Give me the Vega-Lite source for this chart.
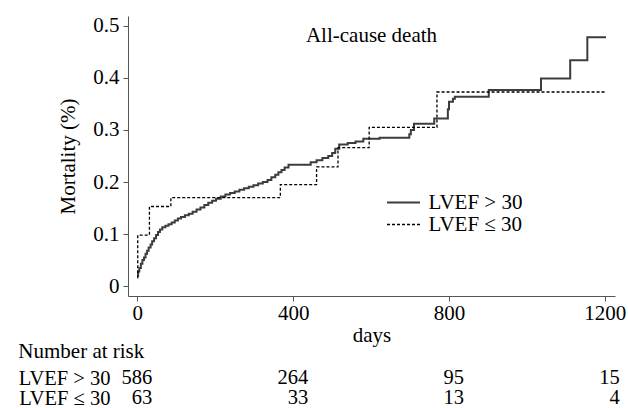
{
  "$schema": "https://vega.github.io/schema/vega-lite/v6.json",
  "padding": {"left": 18, "top": 14, "right": 0, "bottom": 0},
  "spacing": -5,
  "config": {
    "font": "Liberation Serif",
    "view": {"stroke": null},
    "axis": {"labelFont": "Liberation Serif", "titleFont": "Liberation Serif", "labelFontSize": 21, "titleFontSize": 21, "titleFontWeight": "normal", "labelColor": "#000", "titleColor": "#000", "domainColor": "#555", "tickColor": "#555", "tickSize": 5, "grid": false, "labelPadding": 4},
    "title": {"font": "Liberation Serif", "fontSize": 21, "fontWeight": "normal", "color": "#000"},
    "legend": {"labelFont": "Liberation Serif", "labelFontSize": 21, "labelColor": "#000", "padding": 0}
  },
  "datasets": {
    "km": [
      {"group": "LVEF > 30", "day": 0, "mortality": 0.020},
      {"group": "LVEF > 30", "day": 2, "mortality": 0.028},
      {"group": "LVEF > 30", "day": 5, "mortality": 0.035},
      {"group": "LVEF > 30", "day": 9, "mortality": 0.043},
      {"group": "LVEF > 30", "day": 13, "mortality": 0.050},
      {"group": "LVEF > 30", "day": 17, "mortality": 0.055},
      {"group": "LVEF > 30", "day": 21, "mortality": 0.062},
      {"group": "LVEF > 30", "day": 25, "mortality": 0.068},
      {"group": "LVEF > 30", "day": 29, "mortality": 0.074},
      {"group": "LVEF > 30", "day": 34, "mortality": 0.080},
      {"group": "LVEF > 30", "day": 38, "mortality": 0.086},
      {"group": "LVEF > 30", "day": 43, "mortality": 0.092},
      {"group": "LVEF > 30", "day": 48, "mortality": 0.098},
      {"group": "LVEF > 30", "day": 53, "mortality": 0.104},
      {"group": "LVEF > 30", "day": 58, "mortality": 0.109},
      {"group": "LVEF > 30", "day": 64, "mortality": 0.113},
      {"group": "LVEF > 30", "day": 72, "mortality": 0.116},
      {"group": "LVEF > 30", "day": 80, "mortality": 0.119},
      {"group": "LVEF > 30", "day": 88, "mortality": 0.122},
      {"group": "LVEF > 30", "day": 96, "mortality": 0.126},
      {"group": "LVEF > 30", "day": 104, "mortality": 0.130},
      {"group": "LVEF > 30", "day": 112, "mortality": 0.133},
      {"group": "LVEF > 30", "day": 122, "mortality": 0.136},
      {"group": "LVEF > 30", "day": 132, "mortality": 0.139},
      {"group": "LVEF > 30", "day": 142, "mortality": 0.143},
      {"group": "LVEF > 30", "day": 152, "mortality": 0.147},
      {"group": "LVEF > 30", "day": 162, "mortality": 0.151},
      {"group": "LVEF > 30", "day": 172, "mortality": 0.156},
      {"group": "LVEF > 30", "day": 182, "mortality": 0.160},
      {"group": "LVEF > 30", "day": 192, "mortality": 0.164},
      {"group": "LVEF > 30", "day": 202, "mortality": 0.168},
      {"group": "LVEF > 30", "day": 214, "mortality": 0.172},
      {"group": "LVEF > 30", "day": 226, "mortality": 0.176},
      {"group": "LVEF > 30", "day": 238, "mortality": 0.179},
      {"group": "LVEF > 30", "day": 250, "mortality": 0.182},
      {"group": "LVEF > 30", "day": 262, "mortality": 0.185},
      {"group": "LVEF > 30", "day": 274, "mortality": 0.188},
      {"group": "LVEF > 30", "day": 286, "mortality": 0.191},
      {"group": "LVEF > 30", "day": 298, "mortality": 0.194},
      {"group": "LVEF > 30", "day": 310, "mortality": 0.197},
      {"group": "LVEF > 30", "day": 322, "mortality": 0.200},
      {"group": "LVEF > 30", "day": 334, "mortality": 0.204},
      {"group": "LVEF > 30", "day": 344, "mortality": 0.209},
      {"group": "LVEF > 30", "day": 354, "mortality": 0.214},
      {"group": "LVEF > 30", "day": 362, "mortality": 0.219},
      {"group": "LVEF > 30", "day": 370, "mortality": 0.223},
      {"group": "LVEF > 30", "day": 378, "mortality": 0.228},
      {"group": "LVEF > 30", "day": 388, "mortality": 0.233},
      {"group": "LVEF > 30", "day": 445, "mortality": 0.238},
      {"group": "LVEF > 30", "day": 460, "mortality": 0.242},
      {"group": "LVEF > 30", "day": 475, "mortality": 0.246},
      {"group": "LVEF > 30", "day": 490, "mortality": 0.250},
      {"group": "LVEF > 30", "day": 500, "mortality": 0.256},
      {"group": "LVEF > 30", "day": 508, "mortality": 0.264},
      {"group": "LVEF > 30", "day": 518, "mortality": 0.272},
      {"group": "LVEF > 30", "day": 540, "mortality": 0.275},
      {"group": "LVEF > 30", "day": 560, "mortality": 0.278},
      {"group": "LVEF > 30", "day": 580, "mortality": 0.283},
      {"group": "LVEF > 30", "day": 622, "mortality": 0.285},
      {"group": "LVEF > 30", "day": 698, "mortality": 0.292},
      {"group": "LVEF > 30", "day": 702, "mortality": 0.300},
      {"group": "LVEF > 30", "day": 710, "mortality": 0.312},
      {"group": "LVEF > 30", "day": 762, "mortality": 0.322},
      {"group": "LVEF > 30", "day": 797, "mortality": 0.340},
      {"group": "LVEF > 30", "day": 800, "mortality": 0.354},
      {"group": "LVEF > 30", "day": 810, "mortality": 0.360},
      {"group": "LVEF > 30", "day": 815, "mortality": 0.364},
      {"group": "LVEF > 30", "day": 902, "mortality": 0.377},
      {"group": "LVEF > 30", "day": 1036, "mortality": 0.399},
      {"group": "LVEF > 30", "day": 1111, "mortality": 0.434},
      {"group": "LVEF > 30", "day": 1155, "mortality": 0.478},
      {"group": "LVEF > 30", "day": 1203, "mortality": 0.478},
      {"group": "LVEF ≤ 30", "day": 0, "mortality": 0.016},
      {"group": "LVEF ≤ 30", "day": 1, "mortality": 0.098},
      {"group": "LVEF ≤ 30", "day": 31, "mortality": 0.153},
      {"group": "LVEF ≤ 30", "day": 86, "mortality": 0.170},
      {"group": "LVEF ≤ 30", "day": 367, "mortality": 0.195},
      {"group": "LVEF ≤ 30", "day": 460, "mortality": 0.229},
      {"group": "LVEF ≤ 30", "day": 515, "mortality": 0.266},
      {"group": "LVEF ≤ 30", "day": 595, "mortality": 0.305},
      {"group": "LVEF ≤ 30", "day": 769, "mortality": 0.373},
      {"group": "LVEF ≤ 30", "day": 1203, "mortality": 0.373}
    ],
    "risk": [
      {"group": "LVEF > 30", "day": 0, "n": 586},
      {"group": "LVEF > 30", "day": 400, "n": 264},
      {"group": "LVEF > 30", "day": 800, "n": 95},
      {"group": "LVEF > 30", "day": 1200, "n": 15},
      {"group": "LVEF ≤ 30", "day": 0, "n": 63},
      {"group": "LVEF ≤ 30", "day": 400, "n": 33},
      {"group": "LVEF ≤ 30", "day": 800, "n": 13},
      {"group": "LVEF ≤ 30", "day": 1200, "n": 4}
    ]
  },
  "vconcat": [
    {
      "width": 487,
      "height": 280,
      "title": {"text": "All-cause death", "offset": -48, "anchor": "middle", "baseline": "alphabetic"},
      "data": {"name": "km"},
      "mark": {"type": "line", "interpolate": "step-after"},
      "encoding": {
        "x": {"field": "day", "type": "quantitative", "scale": {"domain": [-24, 1226], "nice": false, "zero": false}, "axis": {"values": [0, 400, 800, 1200], "format": "d", "title": "days", "labelPadding": 1, "titlePadding": 1.5}},
        "y": {"field": "mortality", "type": "quantitative", "scale": {"domain": [-0.019, 0.519], "nice": false, "zero": false}, "axis": {"values": [0, 0.1, 0.2, 0.3, 0.4, 0.5], "format": "~g", "title": "Mortality (%)", "titlePadding": 14}},
        "color": {"field": "group", "type": "nominal", "scale": {"domain": ["LVEF > 30", "LVEF ≤ 30"], "range": ["#3c3c3c", "#000000"]}, "legend": {"title": null, "orient": "none", "legendX": 265, "legendY": 176, "symbolType": "M-3.3,0H3.3", "symbolSize": 100, "labelOffset": 14.5, "rowPadding": 0}},
        "strokeDash": {"field": "group", "type": "nominal", "scale": {"domain": ["LVEF > 30", "LVEF ≤ 30"], "range": [[1, 0], [3, 2]]}, "legend": {"title": null, "orient": "none", "legendX": 265, "legendY": 176, "symbolType": "M-3.3,0H3.3", "symbolSize": 100, "labelOffset": 14.5, "rowPadding": 0}},
        "strokeWidth": {"field": "group", "type": "nominal", "scale": {"domain": ["LVEF > 30", "LVEF ≤ 30"], "range": [2, 1.3]}, "legend": {"title": null, "orient": "none", "legendX": 265, "legendY": 176, "symbolType": "M-3.3,0H3.3", "symbolSize": 100, "labelOffset": 14.5, "rowPadding": 0}}
      }
    },
    {
      "width": 487,
      "height": 40,
      "title": {"text": "Number at risk", "anchor": "start", "frame": "bounds", "offset": -11, "baseline": "alphabetic"},
      "data": {"name": "risk"},
      "mark": {"type": "text", "align": "right", "dx": 15, "baseline": "middle", "fontSize": 20.5, "font": "Liberation Serif", "color": "#000"},
      "encoding": {
        "x": {"field": "day", "type": "quantitative", "scale": {"domain": [-24, 1226], "nice": false, "zero": false}, "axis": null},
        "y": {"field": "group", "type": "nominal", "sort": ["LVEF > 30", "LVEF ≤ 30"], "scale": {"paddingInner": 0, "paddingOuter": 0}, "axis": {"title": null, "domain": false, "ticks": false, "labelAlign": "right", "labelFontSize": 20.5, "labelPadding": 18}},
        "text": {"field": "n", "type": "quantitative"}
      }
    }
  ]
}
